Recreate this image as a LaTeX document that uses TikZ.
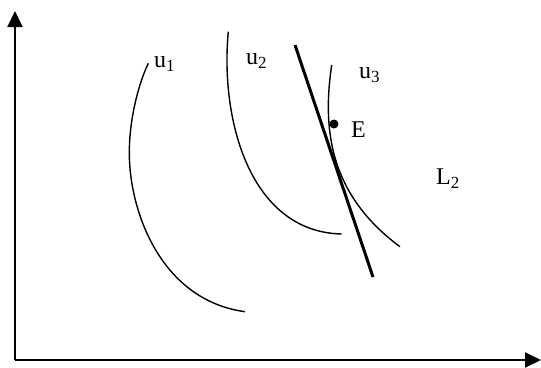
\documentclass[tikz,border=0pt]{standalone}
\usepackage{fontspec}
\setmainfont{Liberation Serif}
\usetikzlibrary{arrows.meta}
\newcommand\lblsub[1]{\raisebox{-4.5pt}{\fontsize{17}{17}\selectfont #1}}
\begin{document}
\begin{tikzpicture}[x=1pt,y=-1pt,
  axis/.style={line width=2pt, -{Triangle[length=16pt,width=15pt]}},
  curve/.style={line width=1.4pt},
  budget/.style={line width=3pt},
  lbl/.style={font=\fontsize{24}{28}\selectfont, inner sep=0pt, anchor=base west},
  dotE/.style={circle, fill=black, inner sep=0pt, minimum size=9pt}]
\useasboundingbox (0,0) rectangle (541,367);
\coordinate (O) at (15,360);
\coordinate (ytip) at (15,11);
\coordinate (xtip) at (541,360);
\draw[axis] (O) -- (ytip);
\draw[axis] (O) -- (xtip);
% indifference curves
\draw[curve] (148.3,63.3) .. controls (138,85) and (129.3,120) .. (129.3,153)
             .. controls (129.3,210) and (160,300) .. (245,311.7);
\draw[curve] (228.3,31.7) .. controls (220,120) and (250,232) .. (341.7,234);
\draw[curve] (331.7,65) .. controls (322,130) and (330,195) .. (400,246.7);
% budget line
\coordinate (L2a) at (295,45);
\coordinate (L2b) at (373,277);
\draw[budget] (L2a) -- (L2b);
% point E
\node[dotE] (E) at (334,124) {};
% labels
\node[lbl] (u1) at (154,67) {u\lblsub{1}};
\node[lbl] (u2) at (246,64) {u\lblsub{2}};
\node[lbl] (u3) at (359,78) {u\lblsub{3}};
\node[lbl] (Elbl) at (351,137) {E};
\node[lbl] (L2) at (436,184) {L\lblsub{2}};
\end{tikzpicture}
\end{document}
